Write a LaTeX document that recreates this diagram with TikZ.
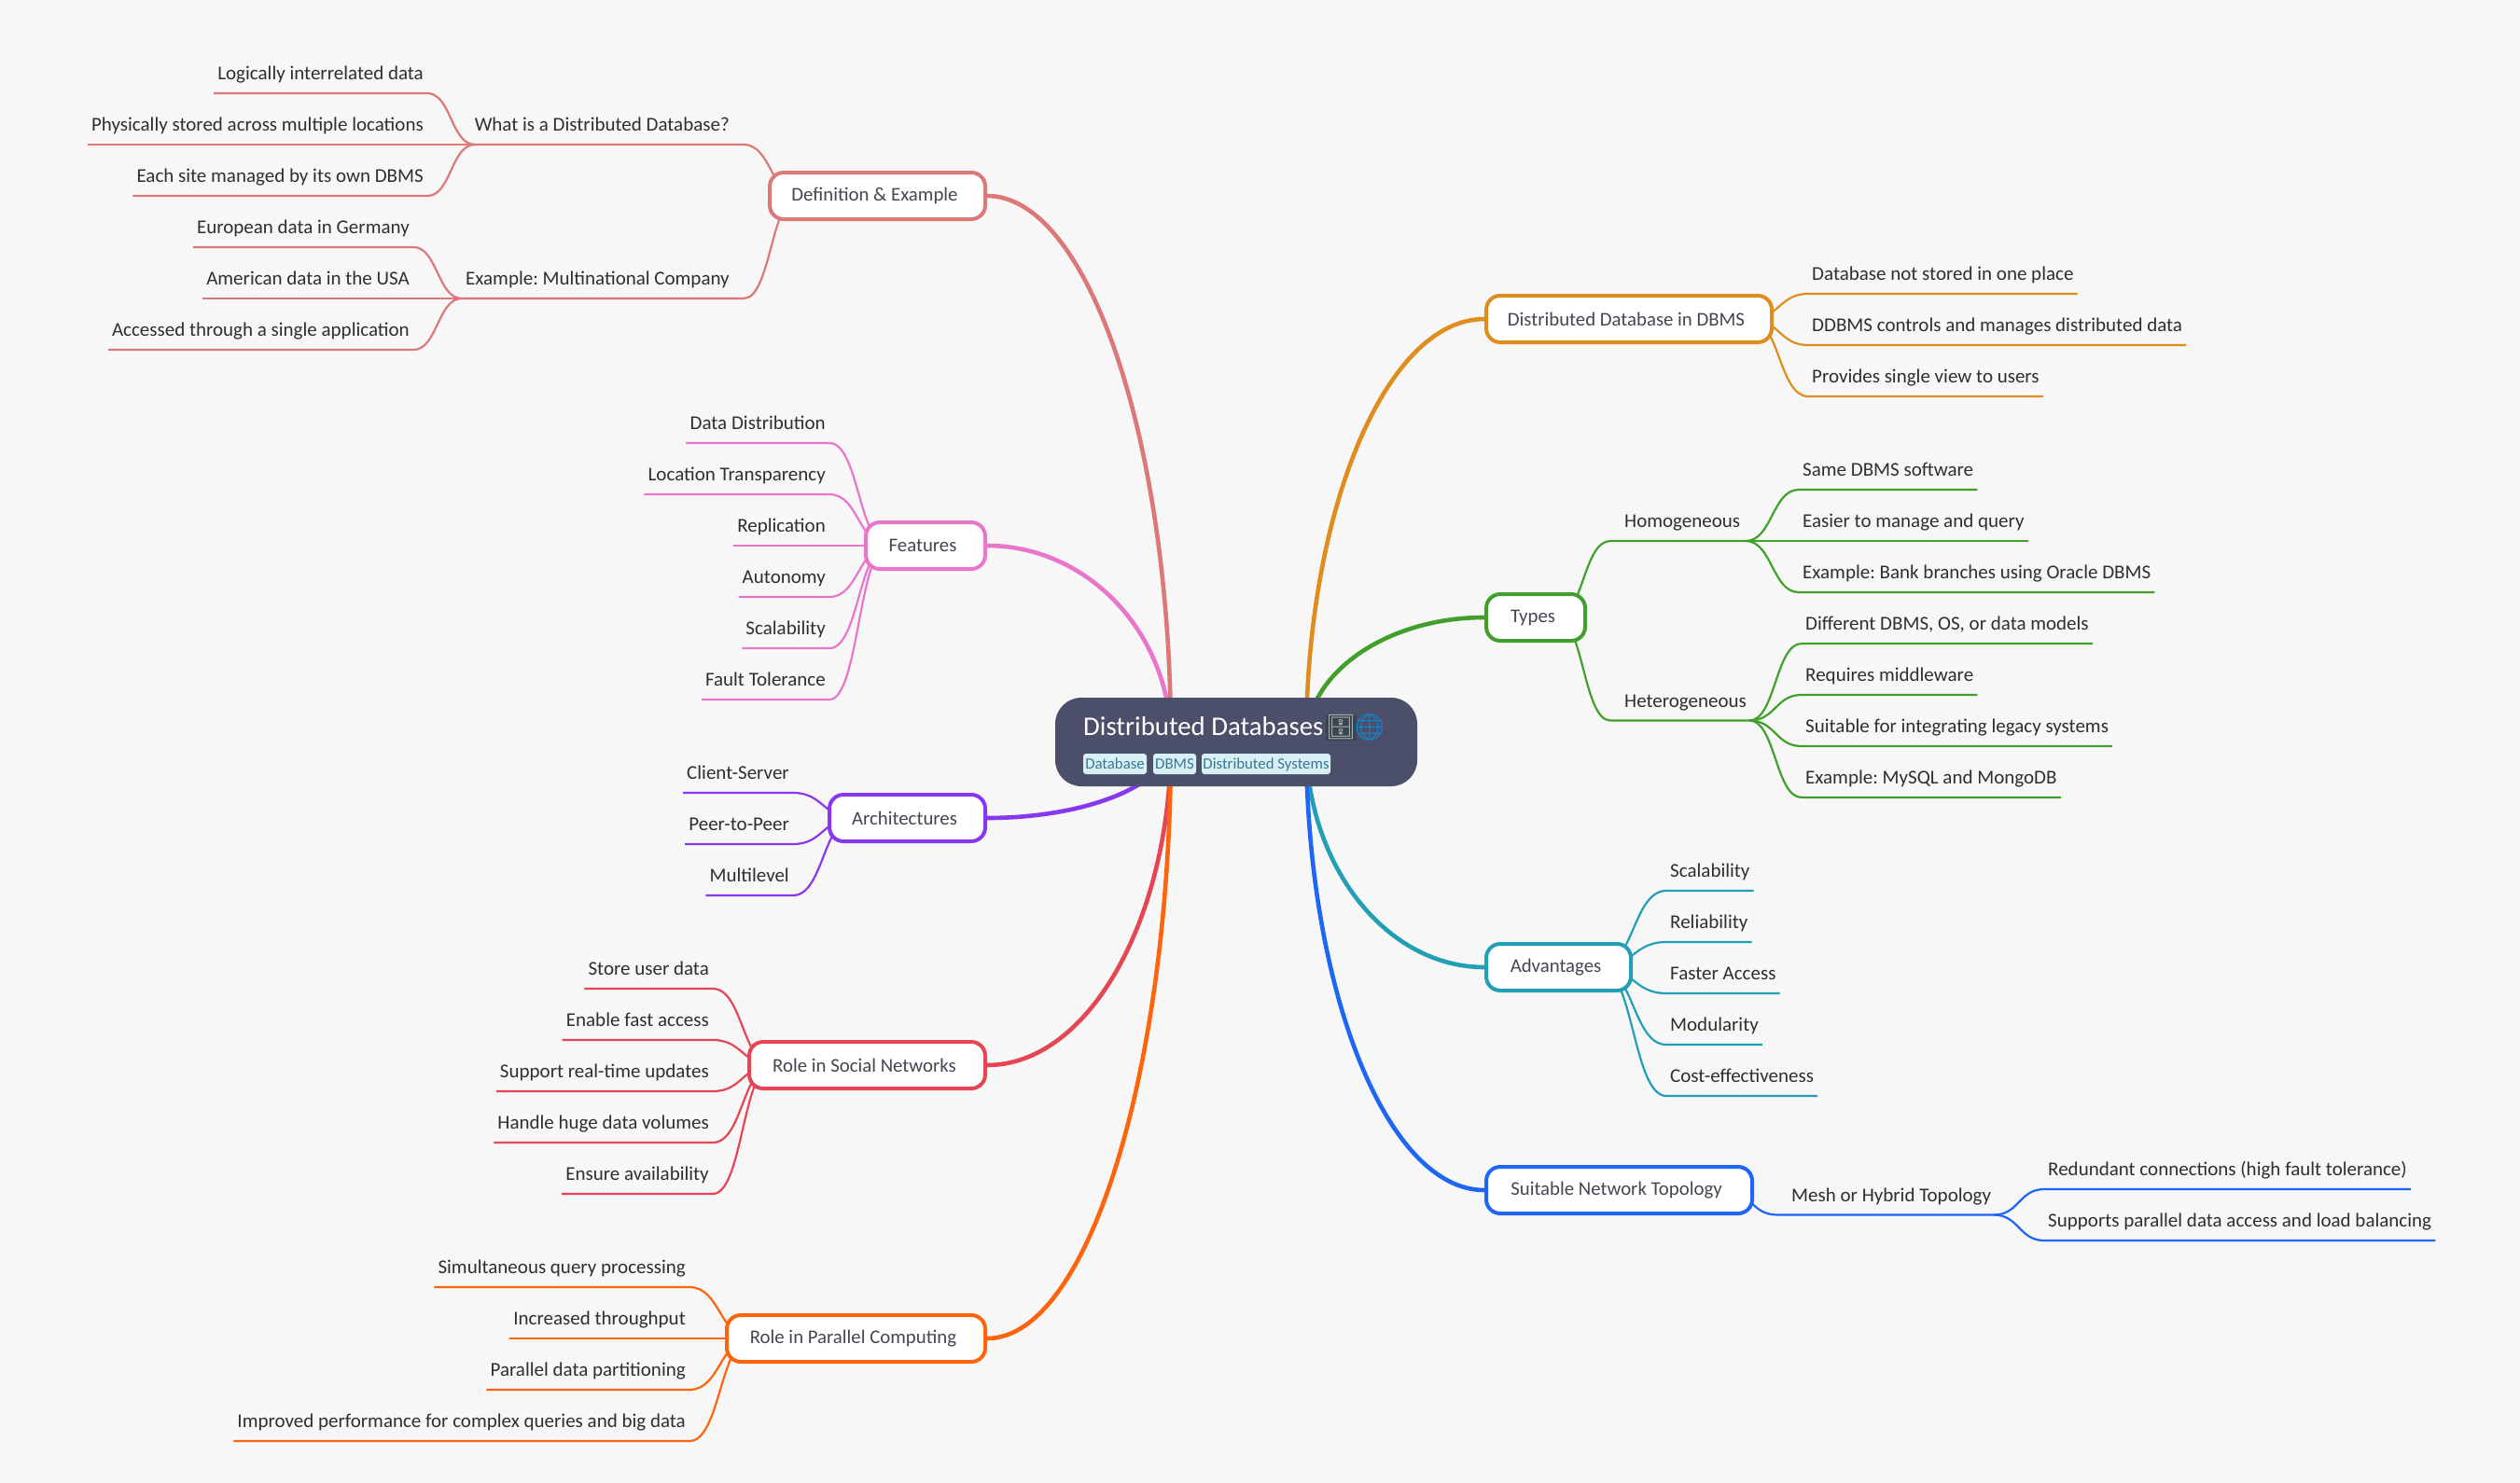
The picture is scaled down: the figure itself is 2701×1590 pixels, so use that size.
\documentclass[tikz,border=0pt]{standalone}
\usepackage{fontspec}
\setmainfont{Carlito}
\newfontfamily\emojifont{Noto Emoji}
\usetikzlibrary{calc}
\pgfdeclarelayer{bg}
\pgfsetlayers{bg,main}
\frenchspacing

\definecolor{paper}{HTML}{F7F7F7}
\definecolor{ink}{HTML}{2F2F2F}
\definecolor{slate}{HTML}{4C4F69}
\definecolor{boxtext}{HTML}{45464F}
\definecolor{drawer}{HTML}{37474F}
\definecolor{tagfill}{HTML}{D6F0F6}
\definecolor{tagtext}{HTML}{3E7590}
\definecolor{cdefn}{HTML}{DD7878}
\definecolor{cfeat}{HTML}{EA76CB}
\definecolor{carch}{HTML}{8839EF}
\definecolor{csocial}{HTML}{E64553}
\definecolor{cparallel}{HTML}{FE640B}
\definecolor{cddb}{HTML}{DF8E1D}
\definecolor{ctypes}{HTML}{40A02B}
\definecolor{cadv}{HTML}{209FB5}
\definecolor{ctopo}{HTML}{1E66F5}

\tikzset{
	leaf/.style={inner xsep=4pt, inner ysep=9pt, text=ink, font=\fontsize{21}{26}\selectfont, text height=16pt, text depth=5pt},
	twig/.style={leaf, inner xsep=15pt},
	box/.style={draw=#1, line width=4pt, fill=white, rounded corners=15pt, minimum height=50pt, text=boxtext, font=\fontsize{20.8}{26}\selectfont, inner sep=0pt, execute at end node={\hspace*{6pt}}},
	tag/.style={fill=tagfill, rounded corners=3pt, minimum height=22pt, inner sep=0pt, text height=13pt, text depth=2pt, text=tagtext, font=\fontsize{16.8}{20}\selectfont},
	thin line/.style={draw=#1, line width=2.2pt},
	trunk/.style={draw=#1, line width=4.6pt, to path={.. controls ($(\tikztostart)!.55!(\tikztostart-|\tikztotarget)$) and ($(\tikztotarget)!.55!(\tikztotarget|-\tikztostart)$) .. (\tikztotarget)}},
	bough/.style={to path={.. controls ($(\tikztostart)!.5!(\tikztotarget|-\tikztostart)$) and ($(\tikztotarget)!.5!(\tikztostart|-\tikztotarget)$) .. (\tikztotarget)}}
}

\begin{document}
\begin{tikzpicture}[x=1pt, y=-1pt]

	\useasboundingbox (0,0) rectangle (2701,1590);

	% root
	\node[fill=slate, rounded corners=28pt, minimum width=388pt, minimum height=95pt, inner sep=0pt] (root) at (1325,795.5) {};
	\node[anchor=base west, inner sep=0pt, text=white, font=\fontsize{28.8}{34}\selectfont] (title) at (1161,788) {Distributed Databases};
	\node[fill=drawer, minimum width=24pt, minimum height=27pt, inner sep=0pt, text=gray!60!white, font=\emojifont\fontsize{26}{28}\selectfont] (cabinet) at (1437,780) {^^^^^^01f5c4};
	\node[inner sep=0pt, text=cyan!70!blue, font=\emojifont\fontsize{28}{30}\selectfont] (globe) at (1468,780) {^^^^^^01f310};
	\node[tag, minimum width=68pt] (tagdb) at (1195,819) {Database};
	\node[tag, minimum width=46pt] (tagdbms) at (1259,819) {DBMS};
	\node[tag, minimum width=138pt] (tagsys) at (1357,819) {Distributed Systems};

	\coordinate (rootl) at (1255,795);
	\coordinate (rootr) at (1400,795);

	% left side
	\node[box=cdefn, minimum width=231pt] (defn) at (940.5,210) {Definition \& Example};
	\node[box=cfeat, minimum width=128pt] (feat) at (992,585) {Features};
	\node[box=carch, minimum width=167pt] (arch) at (972.5,877) {Architectures};
	\node[box=csocial, minimum width=253pt] (social) at (929.5,1142) {Role in Social Networks};
	\node[box=cparallel, minimum width=277pt] (parallel) at (917.5,1435) {Role in Parallel Computing};

	\coordinate (defnhub) at (856,210);
	\coordinate (feathub) at (952,585);
	\coordinate (archhub) at (915,877);
	\coordinate (socialhub) at (828,1142);
	\coordinate (parallelhub) at (805,1435);

	\node[twig, anchor=south east] (whatis) at (797,155) {What is a Distributed Database?};
	\node[twig, anchor=south east] (company) at (797,320) {Example: Multinational Company};
	\coordinate (whatishub) at (509,155);
	\coordinate (companyhub) at (495,320);

	\node[leaf, anchor=south east] (d1) at (458,100) {Logically interrelated data};
	\node[leaf, anchor=south east] (d2) at (458,155) {Physically stored across multiple locations};
	\node[leaf, anchor=south east] (d3) at (458,210) {Each site managed by its own DBMS};
	\node[leaf, anchor=south east] (d4) at (443,265) {European data in Germany};
	\node[leaf, anchor=south east] (d5) at (443,320) {American data in the USA};
	\node[leaf, anchor=south east] (d6) at (443,375) {Accessed through a single application};

	\node[leaf, anchor=south east] (f1) at (889,475) {Data Distribution};
	\node[leaf, anchor=south east] (f2) at (889,530) {Location Transparency};
	\node[leaf, anchor=south east] (f3) at (889,585) {Replication};
	\node[leaf, anchor=south east] (f4) at (889,640) {Autonomy};
	\node[leaf, anchor=south east] (f5) at (889,695) {Scalability};
	\node[leaf, anchor=south east] (f6) at (889,750) {Fault Tolerance};

	\node[leaf, anchor=south east] (a1) at (850,850) {Client-Server};
	\node[leaf, anchor=south east] (a2) at (850,905) {Peer-to-Peer};
	\node[leaf, anchor=south east] (a3) at (850,960) {Multilevel};

	\node[leaf, anchor=south east] (s1) at (764,1060) {Store user data};
	\node[leaf, anchor=south east] (s2) at (764,1115) {Enable fast access};
	\node[leaf, anchor=south east] (s3) at (764,1170) {Support real-time updates};
	\node[leaf, anchor=south east] (s4) at (764,1225) {Handle huge data volumes};
	\node[leaf, anchor=south east] (s5) at (764,1280) {Ensure availability};

	\node[leaf, anchor=south east] (p1) at (739,1380) {Simultaneous query processing};
	\node[leaf, anchor=south east] (p2) at (739,1435) {Increased throughput};
	\node[leaf, anchor=south east] (p3) at (739,1490) {Parallel data partitioning};
	\node[leaf, anchor=south east] (p4) at (739,1545) {Improved performance for complex queries and big data};

	% right side
	\node[box=cddb, minimum width=306pt] (ddb) at (1746,342) {Distributed Database in DBMS};
	\node[box=ctypes, minimum width=106pt] (types) at (1646,662) {Types};
	\node[box=cadv, minimum width=155pt] (adv) at (1670.5,1037) {Advantages};
	\node[box=ctopo, minimum width=285pt] (topo) at (1735.5,1276) {Suitable Network Topology};

	\coordinate (ddbhub) at (1876,342);
	\coordinate (typeshub) at (1668,662);
	\coordinate (advhub) at (1715,1037);
	\coordinate (topohub) at (1848,1276);

	\node[twig, anchor=south west] (homo) at (1726,580) {Homogeneous};
	\node[twig, anchor=south west] (hetero) at (1726,772.5) {Heterogeneous};
	\node[twig, anchor=south west] (mesh) at (1905,1302.5) {Mesh or Hybrid Topology};
	\coordinate (homohub) at (1871,580);
	\coordinate (heterohub) at (1875,772.5);
	\coordinate (meshhub) at (2137,1302.5);

	\node[leaf, anchor=south west] (b1) at (1938,315) {Database not stored in one place};
	\node[leaf, anchor=south west] (b2) at (1938,370) {DDBMS controls and manages distributed data};
	\node[leaf, anchor=south west] (b3) at (1938,425) {Provides single view to users};

	\node[leaf, anchor=south west] (t1) at (1928,525) {Same DBMS software};
	\node[leaf, anchor=south west] (t2) at (1928,580) {Easier to manage and query};
	\node[leaf, anchor=south west] (t3) at (1928,635) {Example: Bank branches using Oracle DBMS};
	\node[leaf, anchor=south west] (t4) at (1931,690) {Different DBMS, OS, or data models};
	\node[leaf, anchor=south west] (t5) at (1931,745) {Requires middleware};
	\node[leaf, anchor=south west] (t6) at (1931,800) {Suitable for integrating legacy systems};
	\node[leaf, anchor=south west] (t7) at (1931,855) {Example: MySQL and MongoDB};

	\node[leaf, anchor=south west] (c1) at (1786,955) {Scalability};
	\node[leaf, anchor=south west] (c2) at (1786,1010) {Reliability};
	\node[leaf, anchor=south west] (c3) at (1786,1065) {Faster Access};
	\node[leaf, anchor=south west] (c4) at (1786,1120) {Modularity};
	\node[leaf, anchor=south west] (c5) at (1786,1175) {Cost-effectiveness};

	\node[leaf, anchor=south west] (m1) at (2191,1275) {Redundant connections (high fault tolerance)};
	\node[leaf, anchor=south west] (m2) at (2191,1330) {Supports parallel data access and load balancing};

	\begin{pgfonlayer}{bg}
	\fill[paper] (0,0) rectangle (2701,1590);

	\path[trunk=cdefn] (defn.east) edge (rootl);
	\path[trunk=cfeat] (feat.east) edge (rootl);
	\path[trunk=carch] (arch.east) edge (rootl);
	\path[trunk=csocial] (social.east) edge (rootl);
	\path[trunk=cparallel] (parallel.east) edge (rootl);
	\path[trunk=cddb] (ddb.west) edge (rootr);
	\path[trunk=ctypes] (types.west) edge (rootr);
	\path[trunk=cadv] (adv.west) edge (rootr);
	\path[trunk=ctopo] (topo.west) edge (rootr);

	\draw[thin line=cdefn, bough] (whatishub) -- (whatis.south east) to (defnhub);
	\draw[thin line=cdefn, bough] (companyhub) -- (company.south east) to (defnhub);
	\draw[thin line=cdefn, bough] (d1.south west) -- (d1.south east) to (whatishub);
	\draw[thin line=cdefn, bough] (d2.south west) -- (d2.south east) to (whatishub);
	\draw[thin line=cdefn, bough] (d3.south west) -- (d3.south east) to (whatishub);
	\draw[thin line=cdefn, bough] (d4.south west) -- (d4.south east) to (companyhub);
	\draw[thin line=cdefn, bough] (d5.south west) -- (d5.south east) to (companyhub);
	\draw[thin line=cdefn, bough] (d6.south west) -- (d6.south east) to (companyhub);

	\draw[thin line=cfeat, bough] (f1.south west) -- (f1.south east) to (feathub);
	\draw[thin line=cfeat, bough] (f2.south west) -- (f2.south east) to (feathub);
	\draw[thin line=cfeat, bough] (f3.south west) -- (f3.south east) to (feathub);
	\draw[thin line=cfeat, bough] (f4.south west) -- (f4.south east) to (feathub);
	\draw[thin line=cfeat, bough] (f5.south west) -- (f5.south east) to (feathub);
	\draw[thin line=cfeat, bough] (f6.south west) -- (f6.south east) to (feathub);

	\draw[thin line=carch, bough] (a1.south west) -- (a1.south east) to (archhub);
	\draw[thin line=carch, bough] (a2.south west) -- (a2.south east) to (archhub);
	\draw[thin line=carch, bough] (a3.south west) -- (a3.south east) to (archhub);

	\draw[thin line=csocial, bough] (s1.south west) -- (s1.south east) to (socialhub);
	\draw[thin line=csocial, bough] (s2.south west) -- (s2.south east) to (socialhub);
	\draw[thin line=csocial, bough] (s3.south west) -- (s3.south east) to (socialhub);
	\draw[thin line=csocial, bough] (s4.south west) -- (s4.south east) to (socialhub);
	\draw[thin line=csocial, bough] (s5.south west) -- (s5.south east) to (socialhub);

	\draw[thin line=cparallel, bough] (p1.south west) -- (p1.south east) to (parallelhub);
	\draw[thin line=cparallel, bough] (p2.south west) -- (p2.south east) to (parallelhub);
	\draw[thin line=cparallel, bough] (p3.south west) -- (p3.south east) to (parallelhub);
	\draw[thin line=cparallel, bough] (p4.south west) -- (p4.south east) to (parallelhub);

	\draw[thin line=cddb, bough] (ddbhub) to (b1.south west) -- (b1.south east);
	\draw[thin line=cddb, bough] (ddbhub) to (b2.south west) -- (b2.south east);
	\draw[thin line=cddb, bough] (ddbhub) to (b3.south west) -- (b3.south east);

	\draw[thin line=ctypes, bough] (typeshub) to (homo.south west) -- (homohub);
	\draw[thin line=ctypes, bough] (typeshub) to (hetero.south west) -- (heterohub);
	\draw[thin line=ctypes, bough] (homohub) to (t1.south west) -- (t1.south east);
	\draw[thin line=ctypes, bough] (homohub) to (t2.south west) -- (t2.south east);
	\draw[thin line=ctypes, bough] (homohub) to (t3.south west) -- (t3.south east);
	\draw[thin line=ctypes, bough] (heterohub) to (t4.south west) -- (t4.south east);
	\draw[thin line=ctypes, bough] (heterohub) to (t5.south west) -- (t5.south east);
	\draw[thin line=ctypes, bough] (heterohub) to (t6.south west) -- (t6.south east);
	\draw[thin line=ctypes, bough] (heterohub) to (t7.south west) -- (t7.south east);

	\draw[thin line=cadv, bough] (advhub) to (c1.south west) -- (c1.south east);
	\draw[thin line=cadv, bough] (advhub) to (c2.south west) -- (c2.south east);
	\draw[thin line=cadv, bough] (advhub) to (c3.south west) -- (c3.south east);
	\draw[thin line=cadv, bough] (advhub) to (c4.south west) -- (c4.south east);
	\draw[thin line=cadv, bough] (advhub) to (c5.south west) -- (c5.south east);

	\draw[thin line=ctopo, bough] (topohub) to (mesh.south west) -- (meshhub);
	\draw[thin line=ctopo, bough] (meshhub) to (m1.south west) -- (m1.south east);
	\draw[thin line=ctopo, bough] (meshhub) to (m2.south west) -- (m2.south east);
	\end{pgfonlayer}

\end{tikzpicture}
\end{document}
